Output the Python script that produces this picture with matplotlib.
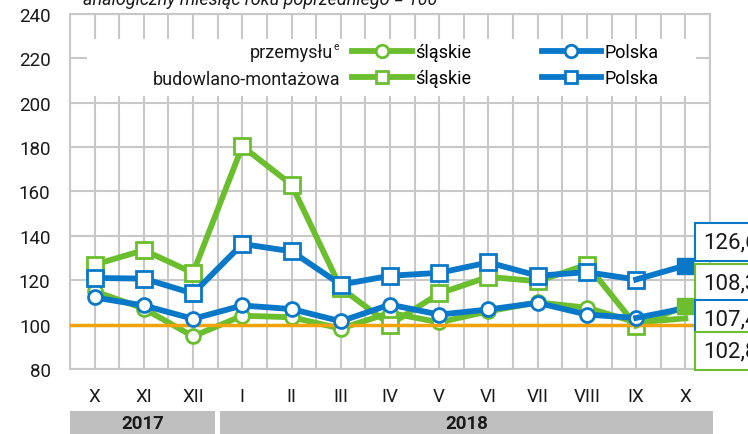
import matplotlib
matplotlib.use("Agg")
import matplotlib.pyplot as plt
from matplotlib.lines import Line2D
from matplotlib.patches import Rectangle
import matplotlib.transforms as mtransforms

plt.rcParams['font.family'] = ['Roboto', 'DejaVu Sans']

# ---- data ----
months = ['X', 'XI', 'XII', 'I', 'II', 'III', 'IV', 'V', 'VI', 'VII', 'VIII', 'IX', 'X']
years = ['2017', '2018']
year_spans = [(-0.5, 2.45), (2.55, 12.57)]
prod_slaskie = [115.0, 107.2, 94.7, 104.0, 103.3, 98.2, 105.3, 101.0, 106.0, 110.0, 107.6, 101.0, 102.8]
prod_polska = [112.2, 108.6, 102.6, 108.6, 107.0, 101.5, 109.0, 104.5, 106.8, 109.8, 104.5, 103.0, 107.4]
bud_slaskie = [127.0, 133.5, 123.3, 180.3, 163.0, 116.5, 100.0, 114.0, 121.5, 119.5, 127.0, 99.5, 108.3]
bud_polska = [121.0, 120.7, 114.0, 136.3, 133.0, 118.0, 122.0, 123.3, 128.0, 122.0, 123.6, 120.3, 126.6]
label_texts = ['126,6', '108,3', '107,4', '102,8']
label_ypos = [137.2, 118.7, 102.5, 88.1]
reference_level = 100
yticks = [80, 100, 120, 140, 160, 180, 200, 220, 240]

GREEN = '#6BBE2E'
BLUE = '#0A78C8'
ORANGE = '#F0A30A'
GRID = '#C8C8C8'
BAR = '#BFBFBF'

W, H = 748, 435
fig = plt.figure(figsize=(W / 100, H / 100), dpi=100)
ax = fig.add_axes([70 / W, (H - 370) / H, 640 / W, 355.3 / H])

x = list(range(len(months)))
ax.set_xlim(-0.5, 12.5)
ax.set_ylim(80, 240)
ax.set_yticks(yticks)
ax.set_xticks(x)
ax.set_xticklabels(months)
ax.set_xticks([i + 0.5 for i in range(-1, 13)], minor=True)
ax.grid(True, which='both', axis='x', color=GRID, lw=1.5)
ax.grid(True, which='major', axis='y', color=GRID, lw=1.5)
ax.set_axisbelow(True)
for s in ax.spines.values():
    s.set_color(GRID)
    s.set_linewidth(1.5)
ax.tick_params(which='both', length=0)
ax.tick_params(axis='y', pad=14, labelsize=13.5, colors='#1a1a1a')
ax.tick_params(axis='x', pad=13, labelsize=13.5, colors='#1a1a1a')

# white legend background covering grid
ax.add_patch(Rectangle((-0.16, 202.9), 12.38, 25.7, facecolor='white', edgecolor='none', zorder=1.5))

lw = 4.2
ms = 10
mew = 2.0
ax.plot(x[:-1], prod_slaskie[:-1], color=GREEN, lw=lw, marker='o', ms=ms, mfc='white', mec=GREEN, mew=mew, zorder=3)
ax.plot(x[-2:], prod_slaskie[-2:], color=GREEN, lw=lw, zorder=3)
ax.plot(x[:-1], bud_slaskie[:-1], color=GREEN, lw=lw, marker='s', ms=ms + 1, mfc='white', mec=GREEN, mew=mew, zorder=3.1)
ax.plot(x[-2:], bud_slaskie[-2:], color=GREEN, lw=lw, zorder=3.1)
ax.axhline(reference_level, color=ORANGE, lw=2.5, zorder=3.5)
ax.plot(x[:-1], prod_polska[:-1], color=BLUE, lw=lw, marker='o', ms=ms, mfc='white', mec=BLUE, mew=mew, zorder=4)
ax.plot(x[-2:], prod_polska[-2:], color=BLUE, lw=lw, zorder=4)
ax.plot(x[:-1], bud_polska[:-1], color=BLUE, lw=lw, marker='s', ms=ms + 1, mfc='white', mec=BLUE, mew=mew, zorder=4.1)
ax.plot(x[-2:], bud_polska[-2:], color=BLUE, lw=lw, zorder=4.1)
# filled last markers
ax.plot([x[-1]], [bud_polska[-1]], marker='s', ms=ms + 1, color=BLUE, zorder=5)
ax.plot([x[-1]], [bud_slaskie[-1]], marker='s', ms=ms + 1, color=GREEN, zorder=5.1)

# legend
h = [Line2D([], [], color=GREEN, lw=lw, marker='o', ms=ms - 1, mfc='white', mec=GREEN, mew=mew),
     Line2D([], [], color=GREEN, lw=lw, marker='s', ms=ms - 1, mfc='white', mec=GREEN, mew=mew),
     Line2D([], [], color=BLUE, lw=lw, marker='o', ms=ms - 1, mfc='white', mec=BLUE, mew=mew),
     Line2D([], [], color=BLUE, lw=lw, marker='s', ms=ms - 1, mfc='white', mec=BLUE, mew=mew)]
leg = ax.legend(h, ['śląskie', 'śląskie', 'Polska', 'Polska'], ncol=2, frameon=False,
                fontsize=13, handlelength=3.3, handletextpad=0.2, columnspacing=3.9,
                labelspacing=0.45, loc='upper left',
                bbox_to_anchor=((352 - 70) / 640, (370 - 44) / 355.3), borderpad=0, borderaxespad=0)
leg.set_zorder(6)

fig.text(333 / W, 1 - 53 / H, 'przemysłu', ha='right', va='center', fontsize=13, color='#1a1a1a')
fig.text(334 / W, 1 - 47 / H, 'e', ha='left', va='center', fontsize=7.5, color='#1a1a1a')
fig.text(340 / W, 1 - 80 / H, 'budowlano-montażowa', ha='right', va='center', fontsize=13, color='#1a1a1a')

# title (cut off at top)
fig.text(83 / W, 1 - 5 / H, 'analogiczny miesiąc roku poprzedniego = 100', ha='left', va='baseline',
         fontsize=13, style='italic', color='#1a1a1a')

# year bars
trans = mtransforms.blended_transform_factory(ax.transData, ax.transAxes)
for (x0, x1), yr in zip(year_spans, years):
    ax.add_patch(Rectangle((x0, -0.19), x1 - x0, 0.19 - 0.118, transform=trans, facecolor=BAR,
                           edgecolor='none', clip_on=False))
    ax.text((x0 + x1) / 2, -0.152, yr, transform=trans, ha='center', va='center', fontsize=13.5,
            fontweight='bold', color='#1a1a1a')

# value labels (cut off at the right edge, as in the reference)
label_colors = [BLUE, GREEN, BLUE, GREEN]
for t, yv, c in zip(label_texts, label_ypos, label_colors):
    ax.text(12.37, yv, t, ha='left', va='center', fontsize=16, color='#1a1a1a', zorder=7, clip_on=False,
            bbox=dict(boxstyle='square,pad=0.38', facecolor='white', edgecolor=c, lw=1.5))

fig.savefig('out.png', dpi=100)
